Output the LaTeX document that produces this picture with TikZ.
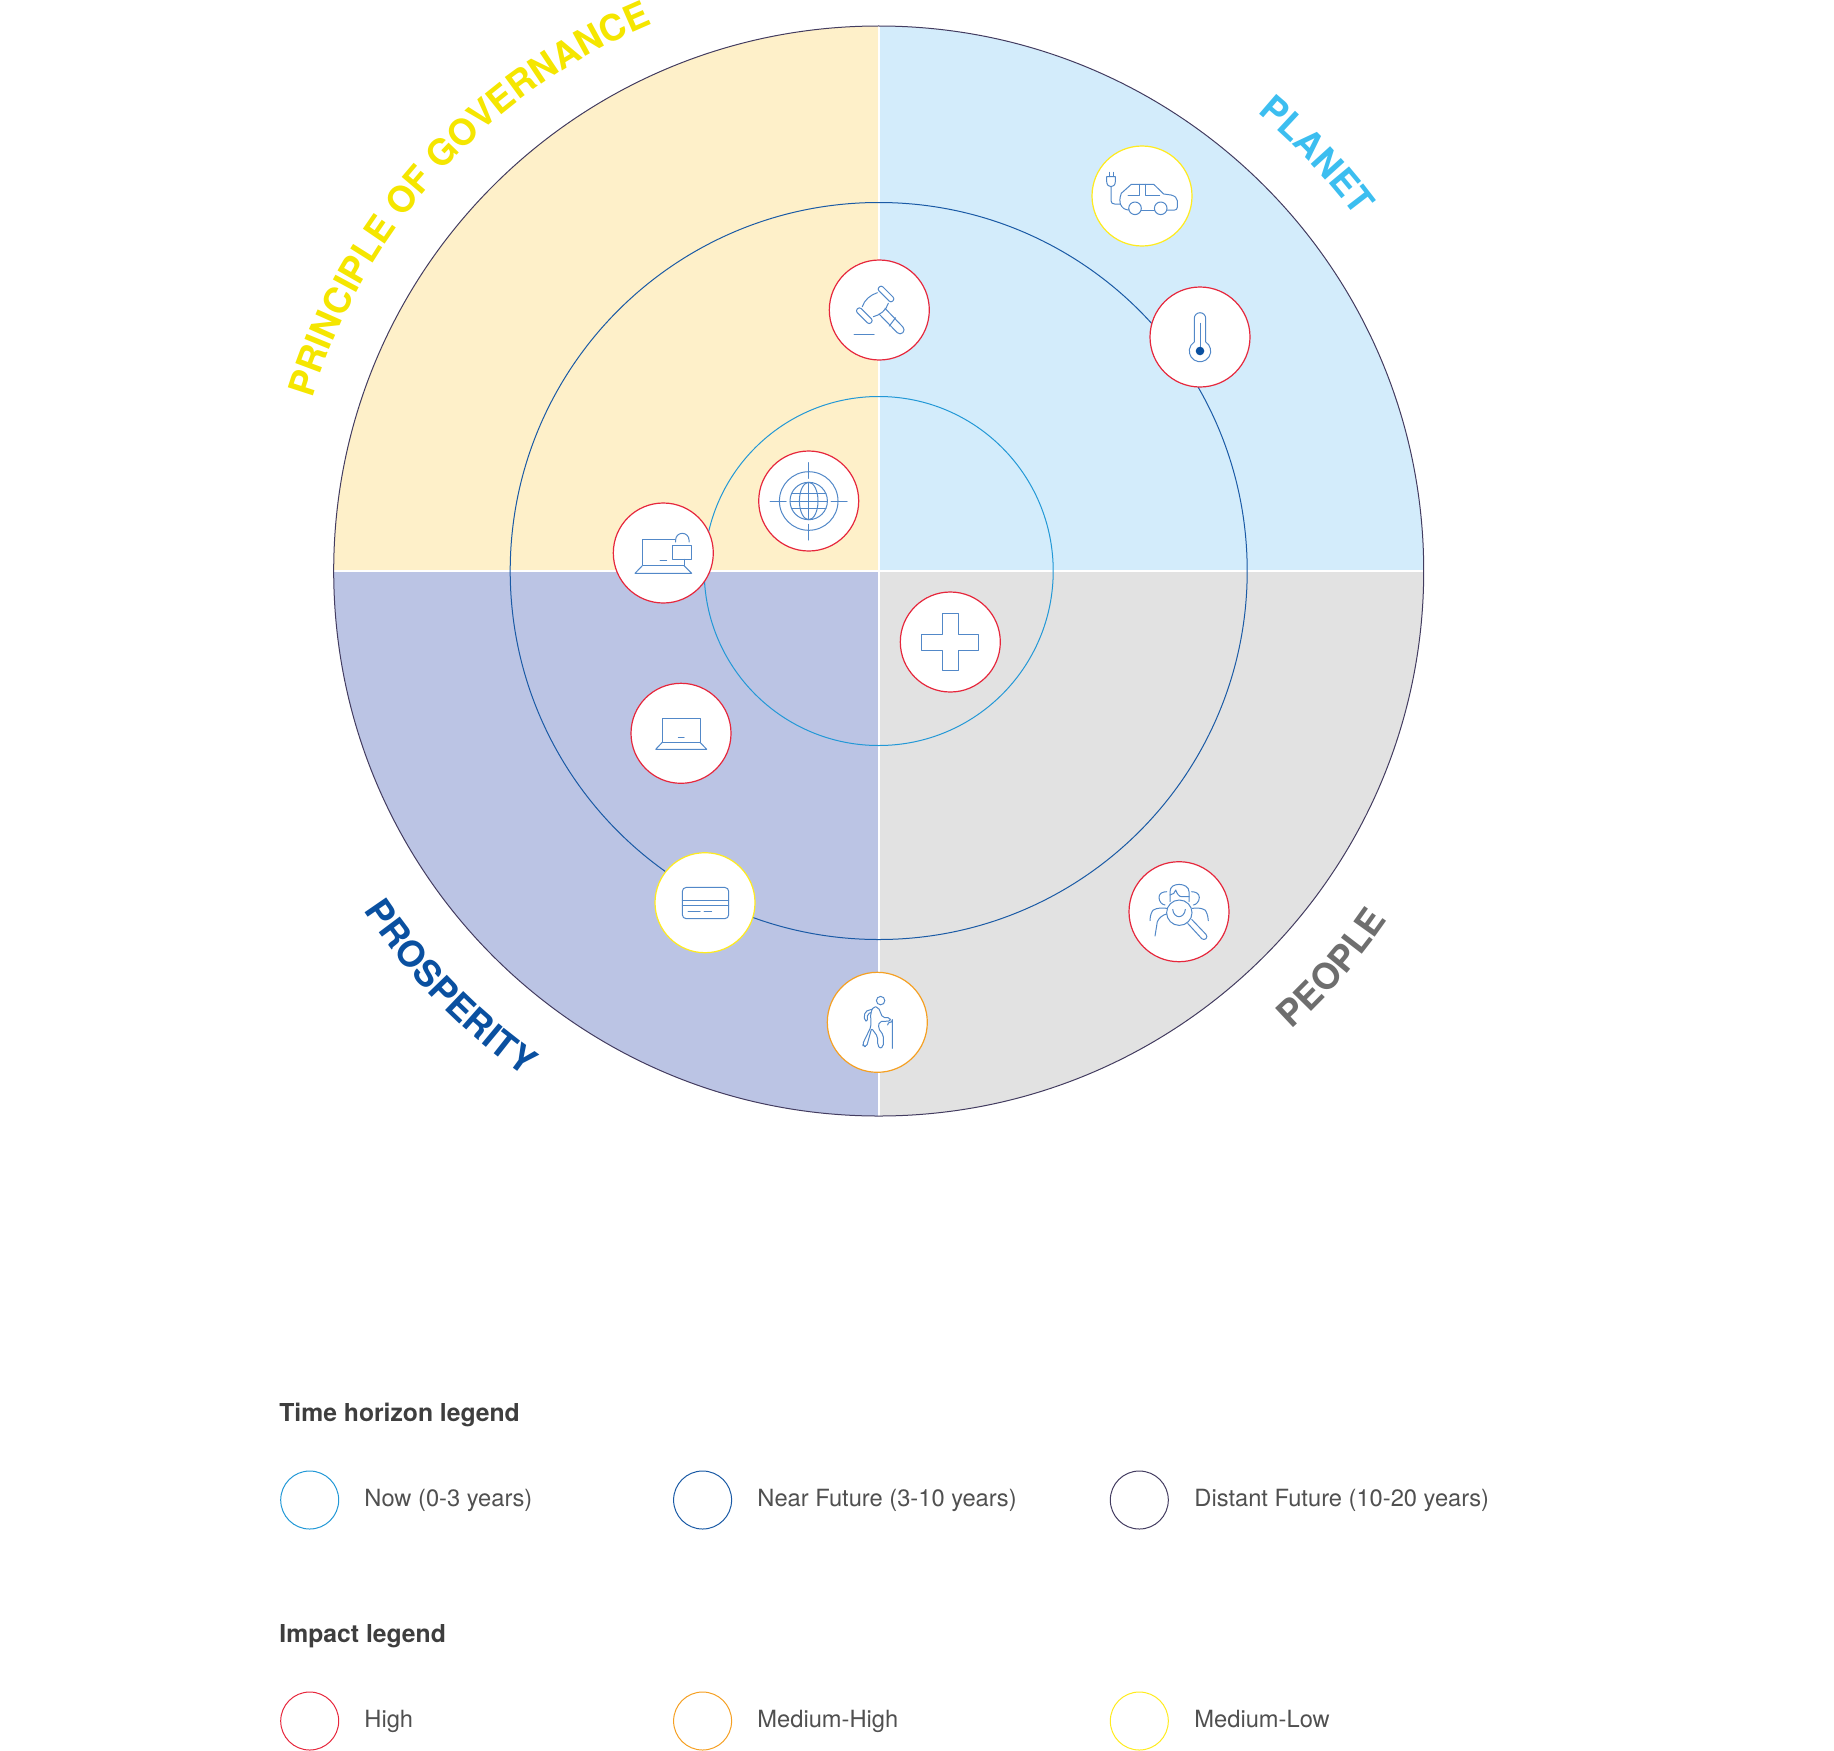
\documentclass[tikz,border=0pt]{standalone}
\usepackage{xcolor}
\usepackage{fontspec}
\setmainfont{TeX Gyre Heros}
\usetikzlibrary{decorations.text}
\definecolor{quadyellow}{HTML}{FEF0C9}
\definecolor{quadblue}{HTML}{D3ECFB}
\definecolor{quadpurple}{HTML}{BBC4E4}
\definecolor{quadgrey}{HTML}{E2E2E2}
\definecolor{nowblue}{HTML}{2298D6}
\definecolor{nearblue}{HTML}{1A5AA5}
\definecolor{distantgrey}{HTML}{433C60}
\definecolor{highred}{HTML}{E6273C}
\definecolor{midorange}{HTML}{F5A023}
\definecolor{lowyellow}{HTML}{FFEB1E}
\definecolor{iconblue}{HTML}{5288C8}
\definecolor{labelyellow}{HTML}{F5E600}
\definecolor{labelblue}{HTML}{3CBEF0}
\definecolor{labelnavy}{HTML}{0A50A0}
\definecolor{labelgrey}{HTML}{6E6E6E}
\definecolor{legendhead}{HTML}{3E3E3E}
\definecolor{legendtext}{HTML}{505050}
\tikzset{
  ring/.style={draw,circle,inner sep=0pt,outer sep=0pt,line width=0.5pt},
  marker/.style={draw,circle,fill=white,inner sep=0pt,outer sep=0pt,minimum size=50pt,line width=0.6pt},
  key/.style={draw,circle,inner sep=0pt,outer sep=0pt,minimum size=29pt,line width=0.5pt},
  keytext/.style={anchor=base west,inner sep=0pt,text=legendtext,font=\fontsize{11.85}{14}\selectfont},
  keyhead/.style={anchor=base west,inner sep=0pt,text=legendhead,font=\fontsize{12.35}{14}\selectfont\bfseries},
  icon/.style={draw=iconblue,line width=0.5pt,line join=round,line cap=round},
  curvelabel/.style n args={3}{decorate,decoration={text along path,text align=center,
    text={|\fontsize{#1}{18}\selectfont\bfseries\color{#2}|#3}}}
}
\begin{document}
\begin{tikzpicture}[x=0.5pt,y=-0.5pt]
\useasboundingbox (0,0) rectangle (1834,1750);
\begin{scope}[shift={(878.7,571)},y=0.5pt]
\fill[quadblue] (0,0) -- (545,0) arc (0:90:545) -- cycle;
\fill[quadyellow] (0,0) -- (0,545) arc (90:180:545) -- cycle;
\fill[quadpurple] (0,0) -- (-545,0) arc (180:270:545) -- cycle;
\fill[quadgrey] (0,0) -- (0,-545) arc (270:360:545) -- cycle;
\draw[white,line width=0.8pt] (-545,0) -- (545,0) (0,-545) -- (0,545);
\path[curvelabel={18.1}{labelyellow}{PRINCIPLE OF GOVERNANCE}] (170.3:592) arc (170.3:105.3:592);
\path[curvelabel={18}{labelblue}{PLANET}] (65:594) arc (65:22:594);
\path[curvelabel={18}{labelnavy}{PROSPERITY}] (205:617) arc (205:243.4:617);
\path[curvelabel={18}{labelgrey}{PEOPLE}] (300:617) arc (300:337.6:617);
\end{scope}

\node[ring,draw=nowblue,minimum size=174.5pt](now) at (878.7,571){};
\node[ring,draw=nearblue,minimum size=368.5pt](near) at (878.7,571){};
\node[ring,draw=distantgrey,minimum size=545pt](distant) at (878.7,571){};

\node[marker,draw=lowyellow](car) at (1142,196){};
\node[marker,draw=highred](thermo) at (1200,337){};
\node[marker,draw=highred](gavel) at (879.3,310){};
\node[marker,draw=highred](globe) at (808.7,501){};
\node[marker,draw=highred](lock) at (663.3,553){};
\node[marker,draw=highred](cross) at (950.3,642){};
\node[marker,draw=highred](laptop) at (681,733.3){};
\node[marker,draw=lowyellow](card) at (705,902.7){};
\node[marker,draw=midorange](hiker) at (877.3,1022.3){};
\node[marker,draw=highred](people) at (1179,911.7){};

\begin{scope}[shift={(car)}]
\draw[icon] (-21.7,8) .. controls (-22.5,3) and (-22,0) .. (-20.7,-2.7) -- (-10.7,-11.7) -- (11.7,-11.7) -- (21.7,-2) -- (29,-1)
  .. controls (33,0) and (35.3,2) .. (35.3,4.7) -- (35.3,11.3) .. controls (35.3,13) and (34,14) .. (32.7,14) -- (25,14);
\draw[icon] (-21.7,8) .. controls (-20,12) and (-17,14) .. (-13,14);
\draw[icon] (-.7,14) -- (12.4,14);
\draw[icon] (-7,12.3) circle[radius=6.3];
\draw[icon] (18.7,12.3) circle[radius=6.3];
\draw[icon] (-14,-.7) -- (-3,-.7) -- (-3,-11.7);
\draw[icon] (3.3,-11.7) -- (3.3,-.7) -- (17.7,-.7);
\draw[icon] (-35.3,-19.3) -- (-26.7,-19.3) -- (-26.7,-14.3) .. controls (-26.7,-11) and (-29,-9.3) .. (-31,-9.3)
  .. controls (-33,-9.3) and (-35.3,-11) .. (-35.3,-14.3) -- cycle;
\draw[icon] (-33,-23.7) -- (-33,-19.3) (-29,-23.7) -- (-29,-19.3);
\draw[icon] (-31,-9.3) -- (-31,4.7) .. controls (-31,7) and (-29.5,8) .. (-27.3,8) -- (-21.7,8);
\end{scope}

\begin{scope}[shift={(thermo)}]
\draw[icon] (-5.7,5) -- (-5.7,-18.6) arc (180:360:5.7) -- (5.7,5) arc (-57.7:237.7:10.7);
\draw[icon] (0,-13.7) -- (0,9.7);
\fill[labelnavy] (0,14) circle[radius=4.3];
\end{scope}

\begin{scope}[shift={(gavel)}]
\draw[icon,rotate around={-45:(6.7,-16)},rounded corners=1.2pt] (-3,-18.8) rectangle (16.4,-13.2);
\draw[icon,rotate around={-45:(-15,5.7)},rounded corners=1.2pt] (-24.7,2.9) rectangle (-5.3,8.5);
\draw[icon] (-2,-17.3) .. controls (-9,-15) and (-15,-10) .. (-17,-3.3);
\draw[icon] (9,-6.7) .. controls (7,0) and (1,5) .. (-6,6.7);
\draw[icon] (5.7,-1.7) -- (23.6,17) arc (-45:135:4) -- (-.3,4);
\draw[icon] (10,16) -- (16.3,7.7);
\draw[icon] (-25.3,24.3) -- (-5.3,24.3);
\end{scope}

\begin{scope}[shift={(globe)}]
\draw[icon] (0,0) circle[radius=29.3];
\draw[icon] (0,0) circle[radius=18.7];
\draw[icon] (0,0) ellipse[x radius=9.3,y radius=18.7];
\draw[icon] (0,-18.7) -- (0,18.7) (-18.7,0) -- (18.7,0);
\draw[icon] (-17.2,-7.3) -- (17.2,-7.3) (-17.2,7.3) -- (17.2,7.3);
\draw[icon] (0,-38.3) -- (0,-22.7) (0,23.3) -- (0,39) (-38.7,0) -- (-22.7,0) (22.3,0) -- (38.3,0);
\end{scope}

\begin{scope}[shift={(lock)}]
\draw[icon] (11.7,-14) -- (-21,-14) -- (-21,12.7) -- (20.7,12.7) -- (20.7,6.3);
\draw[icon] (-21,12.7) -- (-28.3,20.3) -- (28.3,20.3) -- (20.7,12.7);
\draw[icon] (-3.3,7) -- (3.3,7);
\draw[icon] (9,-7.7) rectangle (28.3,6.3);
\draw[icon] (12.3,-11) -- (12.3,-13) arc (180:360:6.7) -- (25.7,-11);
\end{scope}

\begin{scope}[shift={(cross)}]
\draw[icon] (-8,-28.3) -- (8.3,-28.3) -- (8.3,-7.7) -- (28.3,-7.7) -- (28.3,8.3) -- (8.3,8.3) -- (8.3,28.3)
  -- (-8,28.3) -- (-8,8.3) -- (-28.7,8.3) -- (-28.7,-7.7) -- (-8,-7.7) -- cycle;
\end{scope}

\begin{scope}[shift={(laptop)}]
\draw[icon] (-18.7,-15.3) rectangle (19,9);
\draw[icon] (-18.7,9) -- (-25.3,16) -- (25.7,16) -- (19,9);
\draw[icon] (-2.7,3.7) -- (3,3.7);
\end{scope}

\begin{scope}[shift={(card)}]
\draw[icon,rounded corners=2pt] (-22.7,-15.3) rectangle (23.7,16);
\draw[icon] (-22.7,-2.7) -- (23.7,-2.7) (-22.7,2.7) -- (23.7,2.7);
\draw[icon] (-17,8.3) -- (-5,8.3) (-1,8.3) -- (6.7,8.3);
\end{scope}

\begin{scope}[shift={(hiker)}]
\draw[icon] (3.3,-21.7) circle[radius=4.2];
\draw[icon,rounded corners=1pt] (-4,-15.7) -- (1,-15) -- (5.3,-4.7) -- (12.7,-4.7) -- (13.3,-1.3) -- (2,-.7) -- (1,6) -- (6,12.7)
  -- (6,24.3) -- (2.7,26.3) -- (.3,22.7) -- (.3,14.3) -- (-5.7,6) -- (-10.7,24.3) -- (-14,24.3) -- (-14.7,21.7)
  -- (-6.3,4.3) -- (-6.7,-9) -- cycle;
\draw[icon,rounded corners=1pt] (-5.7,-13) -- (-12.3,-10.7) -- (-13.3,-2.3) -- (-10,-.7) -- (-10,-8.3) -- (-6.3,-9.7);
\draw[icon] (15,26) -- (15,-2.7) .. controls (15,-.5) and (14,0) .. (12.7,0) .. controls (11.5,0) and (10.5,1) .. (10.3,2.7);
\end{scope}

\begin{scope}[shift={(people)}]
\draw[icon] (.3,1) circle[radius=12.7];
\draw[icon] (12.7,7.7) -- (27,22.7) arc (-45:135:3) -- (8.7,11.7);
\draw[icon] (-9,-10) -- (-9,-20) .. controls (-9,-25) and (-5,-27.3) .. (0,-27.3) .. controls (5,-27.3) and (10,-25) .. (10,-20) -- (10,-10);
\draw[icon] (-9,-16.7) .. controls (-6,-17) and (-4,-19) .. (-3.3,-21.7) .. controls (-2,-18) and (0,-15) .. (2.7,-15) -- (10,-15);
\draw[icon] (-6.3,-2.3) .. controls (-6,2) and (-3,5) .. (0,5) .. controls (3,5) and (6,2) .. (6.3,-2.3);
\draw[icon] (-12.3,-20) .. controls (-17,-20) and (-20,-18) .. (-20,-14.3) .. controls (-20,-10) and (-17,-7) .. (-14,-6.7);
\draw[icon] (12.7,-20) .. controls (17,-20) and (20.3,-18) .. (20.3,-14.3) .. controls (20.3,-10) and (17,-7) .. (14.3,-6.7);
\draw[icon] (-29,9) .. controls (-29,3) and (-27,-.5) .. (-25.7,-1.7) .. controls (-22,-4) and (-16,-4) .. (-11.7,-3.3);
\draw[icon] (29.3,9) .. controls (29,3) and (27,-.5) .. (26,-1.7) .. controls (22,-4) and (17,-4) .. (13.3,-3.3);
\draw[icon] (-24,24.3) -- (-21.7,10) .. controls (-20,6) and (-16,3) .. (-12.3,2.3);
\end{scope}

\node[keyhead](timehead) at (279,1421){Time horizon legend};
\node[key,draw=nowblue](keynow) at (309.7,1500){};
\node[keytext](textnow) at (364,1506.5){Now (0-3 years)};
\node[key,draw=nearblue](keynear) at (702.6,1500){};
\node[keytext](textnear) at (757,1506.5){Near Future (3-10 years)};
\node[key,draw=distantgrey](keydistant) at (1139.3,1500){};
\node[keytext](textdistant) at (1194,1506.5){Distant Future (10-20 years)};

\node[keyhead](impacthead) at (279,1642.7){Impact legend};
\node[key,draw=highred](keyhigh) at (309.7,1721){};
\node[keytext](texthigh) at (364,1727){High};
\node[key,draw=midorange](keymid) at (702.6,1721){};
\node[keytext](textmid) at (757,1727){Medium-High};
\node[key,draw=lowyellow](keylow) at (1139.3,1721){};
\node[keytext](textlow) at (1194,1727){Medium-Low};
\end{tikzpicture}
\end{document}
